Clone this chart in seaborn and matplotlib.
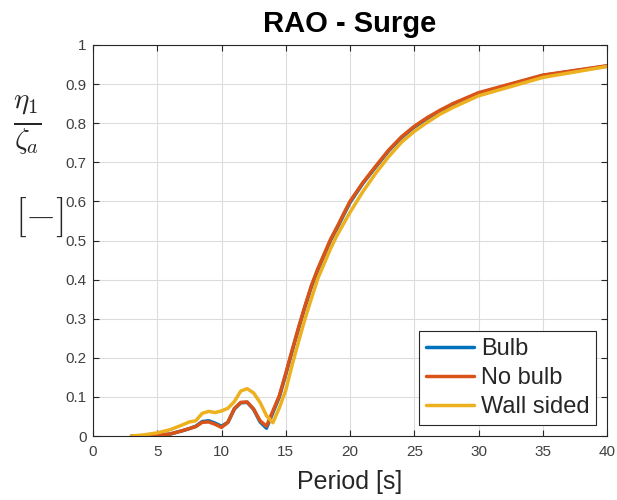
import numpy as np
import pandas as pd
import matplotlib
matplotlib.use("Agg")
import matplotlib.pyplot as plt
import seaborn as sns

# ---- data ----
period = [3, 4, 5, 6, 7, 7.5, 8, 8.5, 9, 9.5, 10, 10.5, 11, 11.5, 12, 12.5, 13, 13.5,
          14, 14.5, 15, 15.5, 16, 16.5, 17, 17.5, 18, 18.5, 19, 19.5, 20,
          21, 22, 23, 24, 25, 26, 27, 28, 30, 35, 40]

no_bulb = [0.0, 0.0, 0.002, 0.005, 0.014, 0.019, 0.024, 0.035, 0.036, 0.030, 0.022, 0.035,
           0.070, 0.086, 0.087, 0.069, 0.039, 0.025,
           0.064, 0.103, 0.160, 0.220, 0.278, 0.333, 0.385, 0.428, 0.466, 0.504, 0.535, 0.568, 0.600,
           0.648, 0.690, 0.731, 0.765, 0.792, 0.814, 0.833, 0.850, 0.878, 0.923, 0.947]

bulb = [0.0, 0.0, 0.002, 0.005, 0.014, 0.019, 0.025, 0.037, 0.039, 0.033, 0.025, 0.035,
        0.069, 0.085, 0.086, 0.068, 0.036, 0.020,
        0.060, 0.100, 0.157, 0.217, 0.275, 0.330, 0.382, 0.425, 0.463, 0.501, 0.532, 0.565, 0.597,
        0.646, 0.688, 0.729, 0.763, 0.790, 0.812, 0.831, 0.848, 0.876, 0.922, 0.946]

wall_sided = [0.0, 0.003, 0.008, 0.016, 0.029, 0.036, 0.039, 0.058, 0.063, 0.060, 0.064, 0.071,
              0.088, 0.115, 0.121, 0.110, 0.086, 0.052,
              0.034, 0.072, 0.117, 0.182, 0.242, 0.300, 0.352, 0.403, 0.442, 0.480, 0.514, 0.543, 0.572,
              0.625, 0.672, 0.714, 0.751, 0.779, 0.802, 0.823, 0.840, 0.870, 0.917, 0.945]

series_names = ["Bulb", "No bulb", "Wall sided"]
colors = ["#0072BD", "#D95319", "#EDB120"]
x_ticks = [0, 5, 10, 15, 20, 25, 30, 35, 40]
y_ticks = [0, 0.1, 0.2, 0.3, 0.4, 0.5, 0.6, 0.7, 0.8, 0.9, 1]

df = pd.concat([
    pd.DataFrame({"Period": period, "RAO": vals, "Case": name})
    for name, vals in zip(series_names, [bulb, no_bulb, wall_sided])
], ignore_index=True)

sns.set_theme(style="whitegrid")
plt.rcParams["font.family"] = ["Liberation Sans", "DejaVu Sans"]
plt.rcParams["mathtext.fontset"] = "cm"

fig = plt.figure(figsize=(6.17, 5.0), dpi=100)
ax = fig.add_axes([93 / 617, 1 - 436 / 500, (607 - 93) / 617, (436 - 45) / 500])

sns.lineplot(data=df, x="Period", y="RAO", hue="Case", hue_order=series_names,
             palette=colors, linewidth=2.5, ax=ax, sort=False, estimator=None)

ax.set_xlim(0, 40)
ax.set_ylim(0, 1)
ax.set_xticks(x_ticks)
ax.set_xticklabels([str(t) for t in x_ticks])
ax.set_yticks(y_ticks)
ax.set_yticklabels(["0" if t == 0 else ("1" if t == 1 else f"{t:.1f}") for t in y_ticks])

ax.set_facecolor("white")
ax.grid(True, color="#dcdcdc", linewidth=0.8)
for sp in ax.spines.values():
    sp.set_visible(True)
    sp.set_color("#262626")
    sp.set_linewidth(0.8)
ax.tick_params(axis="both", which="both", direction="in", length=4, width=0.8,
               colors="#262626", labelcolor="#404040", labelsize=11,
               top=True, right=True, bottom=True, left=True)
ax.tick_params(axis="y", pad=4.5)
ax.tick_params(axis="x", pad=6.5)

ax.set_xlabel("Period [s]", fontsize=18, color="#262626", labelpad=8)
ax.set_ylabel("")
ax.set_title("RAO - Surge", fontsize=21, fontweight="bold", color="black", pad=9)

fig.text(27 / 617, 1 - 125 / 500, r"$\frac{\eta_1}{\zeta_a}$", fontsize=30,
         ha="center", va="center", color="#262626")
fig.text(40 / 617, 1 - 217 / 500, r"$[-]$", fontsize=28,
         ha="center", va="center", color="#262626")

leg = ax.legend(loc="lower right", fontsize=17, frameon=True, fancybox=False,
                handlelength=2.0, handletextpad=0.3, borderpad=0.3, labelspacing=0.3,
                borderaxespad=0.45)
leg.get_frame().set_edgecolor("#262626")
leg.get_frame().set_linewidth(0.8)
leg.get_frame().set_alpha(1)
for line in leg.get_lines():
    line.set_linewidth(2.5)

fig.savefig("out.png", dpi=100)
